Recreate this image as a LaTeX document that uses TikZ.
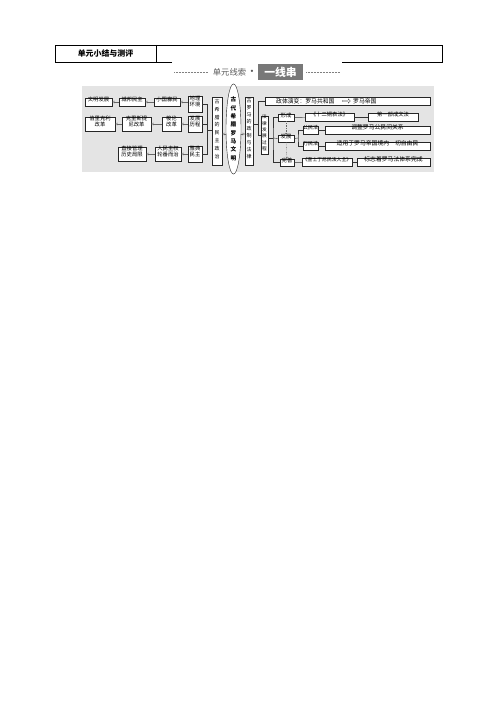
\documentclass[tikz,border=0pt]{standalone}
\usepackage{fontspec}
\newfontfamily\cjk{Noto Sans CJK SC}
\usetikzlibrary{fit,arrows.meta,shapes.geometric,shapes.arrows}
\definecolor{bggray}{RGB}{228,228,228}
\definecolor{bangray}{RGB}{120,120,120}
\definecolor{txtgray}{RGB}{90,90,90}
\tikzset{
  bx/.style={draw=black!85, fill=white, line width=0.45pt, inner sep=0pt, align=center,
    font=\cjk\fontsize{6.4}{7.2}\selectfont},
  bigt/.style={font=\cjk\fontsize{7}{8}\selectfont},
  vbx/.style={bx, font=\cjk\fontsize{6}{9.4}\selectfont},
  txt/.style={inner sep=0pt, font=\cjk\fontsize{7}{8}\selectfont},
  conn/.style={draw=black!80, line width=0.45pt},
  harr/.style={draw=black!60, line width=0.35pt, -{Triangle[open,length=2.6pt,width=3.4pt]}},
  darr/.style={draw=black!60, line width=0.4pt, dash pattern=on 1pt off 1pt, -{Stealth[length=2.4pt,width=2.4pt]}},
  hdr/.style={draw=black, line width=0.9pt}
}
\begin{document}
\begin{tikzpicture}[x=1.2pt,y=-1.2pt]
\useasboundingbox (0,0) rectangle (496,702);
% header table
\draw[hdr] (172,62) -- (55,62) -- (55,45) -- (442,45) -- (442,62) -- (342,62);
\draw[hdr] (156,45) -- (156,62);
\node[font=\cjk\bfseries\fontsize{9.5}{10}\selectfont] (title) at (105.5,53.5) {单元小结与测评};
% banner
\draw[black!50, line width=0.8pt, dash pattern=on 0.6pt off 1.2pt] (174,72) -- (208,72);
\draw[black!50, line width=0.8pt, dash pattern=on 0.6pt off 1.2pt] (306,72) -- (340,72);
\node[font=\cjk\fontsize{10}{11}\selectfont, text=txtgray] (ban1) at (229.5,72) {单元线索};
\node[font=\cjk\bfseries\fontsize{10}{11}\selectfont, text=txtgray] (bandot) at (252,72) {·};
\node[fill=bangray, text=white, inner sep=0pt, minimum width=45*1.2pt, minimum height=16*1.2pt,
  font=\cjk\bfseries\fontsize{13}{14}\selectfont] (ban2) at (280.5,72) {一线串};
% diagram background
\fill[bggray] (82,86) rectangle (434,172);
% left side row 1
\node[bx, fit={(85,98) (112,106)}] (a1) {文明发展};
\node[bx, fit={(119,98) (145,106)}] (a2) {城邦民主};
\node[bx, fit={(154,98) (180,106)}] (a3) {小国寡民};
\node[bx, fit={(188,96) (202,112)}] (a4) {地理\\环境};
% row 2
\node[bx, fit={(85,117) (115,131)}] (b1) {伯里克利\\改革};
\node[bx, fit={(122,117) (151,131)}] (b2) {克里斯提\\尼改革};
\node[bx, fit={(162,117) (181,131)}] (b3) {梭伦\\改革};
\node[bx, fit={(188,116) (202,132)}] (b4) {发展\\历程};
% row 3
\node[bx, fit={(118,147) (146,161)}] (c1) {直接管理\\历史局限};
\node[bx, fit={(155,147) (181,161)}] (c2) {人民主权\\轮番而治};
\node[bx, fit={(188,146) (202,162)}] (c3) {雅典\\民主};
% arrows left
\draw[harr] (a2) -- (a1);
\draw[harr] (a3) -- (a2);
\draw[harr] (a4.west|-a3) -- (a3);
\draw[harr] (b2) -- (b1);
\draw[harr] (b3) -- (b2);
\draw[harr] (b4.west|-b3) -- (b3);
\draw[harr] (c2) -- (c1);
\draw[harr] (c3.west|-c2) -- (c2);
% greek box
\node[vbx, fit={(212,97) (222,165)}] (gr) {古\\希\\腊\\的\\民\\主\\政\\治};
\coordinate (gbr) at (207,130);
\draw[conn] (a4.east) -| (gbr);
\draw[conn] (c3.east) -| (gbr);
\draw[conn] (b4.east) -- (b4.east-|gbr);
\draw[conn] (gbr) -- (gbr-|gr.west);
% ellipse
\node[draw=black!85, fill=white, ellipse, line width=0.5pt, minimum width=15*1.2pt, minimum height=86*1.2pt, inner sep=0pt,
  align=center, font=\cjk\bfseries\fontsize{6.8}{10}\selectfont] (core) at (233.5,129) {古\\代\\希\\腊\\罗\\马\\文\\明};
\draw[harr] (core.west|-0,134) -- (gr.east|-0,134);
% rome box
\node[vbx, fit={(245,97) (253,165)}, font=\cjk\fontsize{6}{8.4}\selectfont] (ro) {古\\罗\\马\\的\\政\\制\\与\\法\\律};
\draw[harr] (core.east|-0,134) -- (ro.west|-0,134);
% right side
\node[bx, fit={(265,97) (430,105)}] (pol) {};
\node[txt, anchor=west] (pol1) at (276,101) {政体演变：罗马共和国};
\node[single arrow, draw=black!70, fill=white, line width=0.35pt, minimum height=8*1.2pt, single arrow head extend=1.2pt,
  inner sep=0.5pt, minimum width=4.5*1.2pt] (parr) at (346,101) {};
\node[txt, anchor=west] (pol2) at (353,101) {罗马帝国};
\node[vbx, fit={(261,116) (268,154)}, font=\cjk\fontsize{5.6}{7.6}\selectfont] (law) {法\\律\\发\\展\\过\\程};
\coordinate (rbr) at (258,124);
\draw[conn] (ro.east|-rbr) -- (rbr);
\draw[conn] (pol.west) -| (258,135) -- (law.west|-0,135);
\node[bx, fit={(278,114) (294,121)}] (f1) {形成};
\node[bx, fit={(278,135) (294,142)}] (f2) {发展};
\node[bx, fit={(280,159) (294,166)}] (f3) {完善};
\coordinate (lbr) at (273,138);
\draw[conn] (law.east|-lbr) -- (lbr);
\draw[conn] (f1.west) -| (lbr) |- (f3.west);
\draw[conn] (lbr) -- (f2.west);
\draw[darr] (f1) -- (f2);
\draw[darr] (f2) -- (f3);
\node[bx, fit={(305,113) (354,121)}] (t12) {《十二铜表法》};
\node[bx, fit={(368,113) (418,121)}] (t12d) {第一部成文法};
\draw[conn] (f1) -- (t12);
\draw[conn] (t12) -- (t12d);
\node[bx, fit={(303,126) (318,134)}, font=\cjk\fontsize{6}{7}\selectfont] (gm) {公民法};
\node[bx, fit={(303,142) (318,150)}, font=\cjk\fontsize{6}{7}\selectfont] (wm) {万民法};
\node[bx, bigt, fit={(325,126) (430,134)}] (gmd) {调整罗马公民间关系};
\node[bx, bigt, fit={(325,142) (430,150)}] (wmd) {适用于罗马帝国境内一切自由民};
\coordinate (fbr) at (298,138);
\draw[conn] (f2.east) -- (fbr);
\draw[conn] (gm.west) -| (fbr) |- (wm.west);
\draw[conn] (gm) -- (gmd);
\draw[conn] (wm) -- (wmd);
\node[bx, fit={(302,158) (352,166)}, font=\cjk\fontsize{5.8}{7}\selectfont] (cj) {《查士丁尼民法大全》};
\node[bx, bigt, fit={(357,158) (430,166)}] (cjd) {标志着罗马法体系完成};
\draw[conn] (f3) -- (cj);
\draw[conn] (cj) -- (cjd);
\end{tikzpicture}
\end{document}
